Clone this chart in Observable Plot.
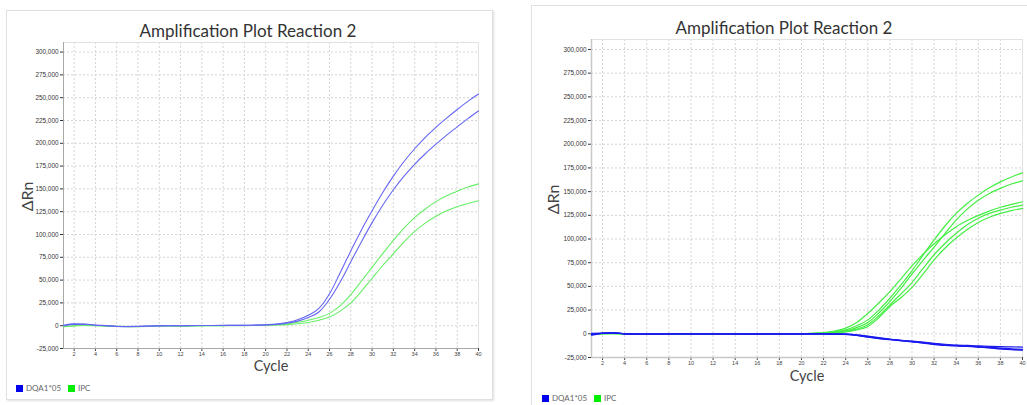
<!DOCTYPE html>
<html><head><meta charset="utf-8">
<script src="https://cdn.jsdelivr.net/npm/d3@7"></script>
<script src="https://cdn.jsdelivr.net/npm/@observablehq/plot@0.6"></script>
<style>
body{margin:0;background:#fff;width:1027px;height:405px;overflow:hidden;position:relative;font-family:Lato,sans-serif}
.card{position:absolute;background:#fff;border:1px solid #e0e0e0;box-shadow:1px 1px 2px rgba(0,0,0,.13)}
.title{position:absolute;font-size:17px;color:#333;white-space:nowrap;transform:translate(-50%,-50%)}
.chart{position:absolute}
.legend{position:absolute;font-size:8px;color:#666;display:flex;align-items:center;white-space:nowrap;transform:translateY(-50%)}
.sw{display:inline-block;width:7px;height:7px;margin-right:3px}
</style></head><body>
<div class="card" style="left:6px;top:10px;width:485px;height:388px"></div>
<div class="card" style="left:531px;top:5px;width:520px;height:420px"></div>
<div class="title" style="left:248px;top:30px">Amplification Plot Reaction 2</div>
<div class="title" style="left:784px;top:27px">Amplification Plot Reaction 2</div>
<div class="chart" id="c1" style="left:0px;top:36px"></div>
<div class="chart" id="c2" style="left:531px;top:33px"></div>
<div class="legend" id="l1" style="left:16px;top:388px"></div>
<div class="legend" id="l2" style="left:542px;top:398px"></div>
<script>
const cycles = d3.range(1, 41);
const legendLabels = ["DQA1*05", "IPC"];
const legendColors = ["#0000ee", "#00ee00"];
const yTicks = d3.range(-25000, 300001, 25000);
const xTicks = d3.range(2, 41, 2);

// Reaction 2 (left panel)
const leftBlueA = [500,2000,1900,700,100,-600,-900,-700,-400,-100,100,0,200,300,300,400,500,500,700,1100,
  1800,3500,6500,11500,19000,35000,58000,82000,105000,126000,146000,164000,180000,194000,206500,217500,227500,237000,246000,254000];
const leftBlueB = [0,1500,1500,500,0,-800,-1100,-900,-500,-200,0,-100,100,200,300,300,400,400,600,900,
  1500,2800,5000,9000,15000,29000,48000,70000,92000,113000,132000,149000,164000,177000,188500,199000,209000,218000,227000,235500];
const leftGreenC = [-1000,0,500,200,-300,-600,-900,-800,-600,-300,-100,-400,-200,0,100,100,200,200,300,500,
  1000,2000,3800,6000,9000,13500,22000,34000,49000,64000,79000,93500,107000,118500,128000,136000,142500,147500,152000,155500];
const leftGreenD = [-1200,-300,300,0,-500,-800,-1100,-1000,-800,-400,-300,-600,-400,-200,0,0,100,100,200,300,
  700,1200,2200,3500,6000,9500,16000,25000,38000,52000,66000,79000,92000,103500,112500,120000,126000,130500,134000,137000];

// Reaction 2 (right panel)
const rightGreenE = [-800,200,300,0,-200,-200,-100,0,0,-100,0,0,100,0,-100,0,100,100,200,300,
  600,1200,2800,6000,12000,21500,32500,44500,58000,71600,84000,95000,104500,113000,119500,125000,129500,133500,136500,139300];
const rightGreenF = [-600,300,400,100,-100,-200,-100,0,0,0,0,0,100,0,0,0,100,100,100,200,
  400,900,2000,4200,8500,14700,25000,37500,51500,66400,83000,99000,114000,127000,137500,146300,154000,160300,165500,169800];
const rightGreenG = [-700,200,300,0,-200,-200,-100,0,0,0,0,0,0,0,0,0,0,100,100,200,
  300,700,1500,3200,6500,11900,22000,34000,48000,62900,77500,91400,106000,120000,131500,141000,148000,153400,158000,161400];
const rightGreenH = [-900,100,200,0,-200,-300,-200,0,0,-100,0,0,0,0,-100,0,0,0,100,100,
  200,600,1200,2500,5000,9500,19000,30500,42000,54100,69000,83400,95500,106000,115000,122000,127000,130500,133500,135800];
const rightGreenI = [-800,100,200,0,-200,-300,-200,-100,0,-100,0,0,0,0,-100,0,0,0,100,100,
  200,500,1000,2000,4000,7700,17000,28800,38000,48900,63000,78000,90500,101000,110000,117500,123000,127000,130000,132300];
const rightBlue1 = [-1500,500,1000,0,-200,-300,-200,0,0,-100,0,0,-200,0,-300,-200,0,0,0,0,
  -100,-200,-300,-600,-1800,-3500,-5000,-6300,-7300,-8300,-9800,-11500,-12300,-12800,-13300,-14000,-14700,-15600,-16500,-16800];
const rightBlue2 = [-500,800,1100,100,-100,-300,-300,-100,0,-100,-100,0,-100,0,-200,-300,-100,0,0,0,
  -100,-100,-200,-400,-1400,-3000,-4500,-5800,-7000,-8000,-9200,-10500,-11800,-12300,-12900,-13500,-14200,-15000,-15800,-16300];
const rightBlue3 = [500,700,900,0,-300,-200,-100,0,100,0,0,100,-100,0,-200,-100,0,0,0,0,
  0,-100,-100,-300,-1000,-2500,-4000,-5500,-6800,-7700,-8800,-10000,-11000,-11800,-12200,-12700,-13200,-13600,-13800,-14000];
const rightBlue4 = [-1000,600,1000,0,-200,-400,-300,-100,0,-200,0,0,-200,-100,-300,-200,-100,0,0,0,
  -100,-200,-300,-500,-1600,-3200,-4800,-6000,-7200,-8500,-9500,-11000,-12000,-12500,-13000,-13800,-14800,-16000,-16800,-17200];

function rows(seriesList) {
  return seriesList.flatMap(([name, vals]) => cycles.map((c, i) => ({cycle: c, value: vals[i], series: name})));
}
const fmt = d => d.toLocaleString("en-US");

function panel(o) {
  return Plot.plot({
    width: o.width, height: o.height,
    marginLeft: o.ml, marginRight: o.mr, marginTop: o.mt, marginBottom: o.mb,
    x: {domain: [1, 40]},
    y: {domain: [-25000, 310500]},
    style: {fontFamily: "'Liberation Sans', Arial, sans-serif", background: "transparent", overflow: "visible"},
    marks: [
      Plot.gridX(xTicks, {stroke: "#d4d4d4", strokeOpacity: 1, strokeDasharray: "2,2"}),
      Plot.gridY(yTicks, {stroke: "#d4d4d4", strokeOpacity: 1, strokeDasharray: "2,2"}),
      Plot.frame({stroke: "#e2e2e2"}),
      Plot.axisY(yTicks, {tickFormat: fmt, fontSize: 6.4, tickSize: 3, tickPadding: 2, color: "#333", label: null}),
      Plot.axisX(xTicks, {fontSize: 5.5, tickSize: 3, tickPadding: 1, color: "#444", label: null}),
      Plot.ruleX([1], {stroke: o.axisStroke, strokeWidth: o.axisWidth}),
      Plot.ruleY([-25000], {stroke: o.axisStroke, strokeWidth: o.axisWidth}),
      Plot.line(rows(o.green), {x: "cycle", y: "value", z: "series", stroke: o.greenColor, strokeWidth: o.lw, curve: "monotone-x"}),
      Plot.line(rows(o.blue), {x: "cycle", y: "value", z: "series", stroke: o.blueColor, strokeWidth: o.lw, curve: "monotone-x"}),
      Plot.text(["Cycle"], {frameAnchor: "bottom", lineAnchor: "middle", dy: o.cycleDy, fontSize: 14.5, fill: "#444", fontFamily: "Lato"}),
      Plot.text(["ΔRn"], {frameAnchor: "left", textAnchor: "middle", lineAnchor: "middle", dx: o.rnDx, dy: 1, rotate: -90, fontSize: 16, fill: "#444", fontFamily: "Lato"})
    ]
  });
}

document.getElementById("c1").append(panel({
  width: 492, height: 348, ml: 63, mr: 14, mt: 6, mb: 36,
  green: [["C", leftGreenC], ["D", leftGreenD]],
  blue: [["A", leftBlueA], ["B", leftBlueB]],
  greenColor: "#66ee66", blueColor: "#6666f4", lw: 1.1,
  axisStroke: "#a8a8a8", axisWidth: 1, cycleDy: 18, rnDx: -36
}));
document.getElementById("c2").append(panel({
  width: 496, height: 360, ml: 60, mr: 5, mt: 6, mb: 36,
  green: [["E", rightGreenE], ["F", rightGreenF], ["G", rightGreenG], ["H", rightGreenH], ["I", rightGreenI]],
  blue: [["1", rightBlue1], ["2", rightBlue2], ["3", rightBlue3], ["4", rightBlue4]],
  greenColor: "#44ee44", blueColor: "#1a1aee", lw: 1.2,
  axisStroke: "#c8c8c8", axisWidth: 1.5, cycleDy: 19, rnDx: -38
}));

for (const id of ["l1", "l2"]) {
  const el = document.getElementById(id);
  legendLabels.forEach((lab, i) => {
    const sw = document.createElement("span");
    sw.className = "sw"; sw.style.background = legendColors[i];
    const t = document.createElement("span");
    t.textContent = lab; t.style.marginRight = "7px";
    el.append(sw, t);
  });
}
</script>
</body></html>
